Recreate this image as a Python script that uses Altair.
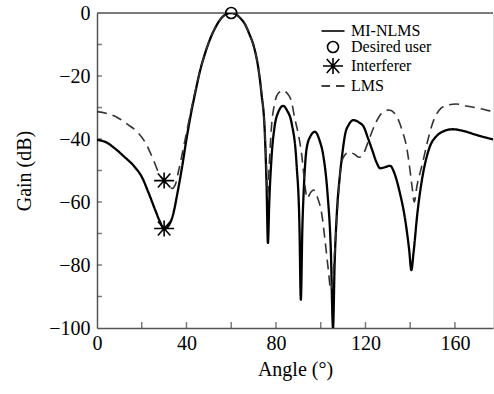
import altair as alt
import pandas as pd

# MI-NLMS beam pattern (solid)
mi_angle = [0, 4, 8, 12, 17, 20, 23, 26, 28, 30, 32, 34, 36, 38, 40, 42, 44, 46, 48, 51, 53, 55.5, 58, 60,
            62, 64, 66, 68, 70.5, 72, 73.5, 75, 75.8, 76.4, 77, 78, 79.4, 81, 83.2, 85, 87, 89.2, 90.5, 91.1,
            91.8, 92.5, 93.7, 95.5, 97.4, 99.5, 101.2, 103, 104.5, 105.5, 106.2, 107.2, 108.5, 109.5, 111,
            112.5, 114.7, 117, 119.2, 121, 123, 125, 126.5, 128.5, 131, 133, 135, 138, 139.5, 140.5, 141.5,
            143.2, 145, 147, 149, 151.5, 155, 159, 164, 169.5, 174, 180]
mi_gain = [-40.3, -41, -43, -45.5, -49, -52, -57, -62.5, -66, -68.5, -67.5, -64, -57, -49, -40, -32, -25, -18.5,
           -13.5, -7.5, -4.5, -1.7, -0.3, 0, -0.4, -1.6, -3.4, -6.5, -11.7, -17, -25.5, -38, -55, -73, -60, -46,
           -36, -31.5, -29.5, -31, -35, -48, -68, -91, -68, -55, -43, -39, -37.7, -40.5, -45.5, -57, -75, -100,
           -80, -63.6, -52, -45.6, -38.2, -35.5, -34, -34.7, -36.1, -39.5, -43.5, -47.5, -49.3, -49, -48.5, -51,
           -56, -66.8, -75, -81.6, -76, -63.6, -54, -46.7, -42, -39.3, -37.5, -36.9, -37.5, -38.7, -39.6, -40.5]

# LMS beam pattern (dashed)
lms_angle = [0, 4, 9.6, 14, 18.6, 21.5, 23.9, 26, 27.6, 30, 32, 33.6, 35, 36.5, 38, 40, 42, 44, 46, 48, 51, 53,
             55.5, 58, 60, 62, 64, 66, 68, 70.5, 72, 73.5, 74.8, 75.8, 76.3, 77, 78, 79.4, 81, 83.2, 85, 86.9,
             88.4, 90, 91.4, 93, 93.9, 95.5, 96.8, 98.5, 100.5, 101.9, 103.4, 104.5, 105.3, 106.4, 107.5, 108.5,
             110, 112.5, 115, 117.2, 119.2, 121.5, 124.5, 127, 130.5, 133, 136.5, 138.5, 139.5, 140.8, 141.8,
             143, 145.5, 148, 150, 153.7, 157, 160.5, 165, 171, 175, 180]
lms_gain = [-31.3, -31.8, -33.4, -35.5, -38.2, -41, -44.5, -48, -50.9, -53.2, -55, -55.7, -54.5, -50, -45, -38, -31,
            -24.5, -18.5, -13.5, -7.5, -4.5, -1.7, -0.3, 0, -0.4, -1.6, -3.4, -6.5, -11.7, -17, -25, -35, -50, -58,
            -48, -36, -28.7, -25.5, -24.6, -25.5, -28, -33.5, -38.5, -44.5, -55, -58.8, -57, -56.2, -58.5, -64,
            -72, -81.6, -88, -85, -74, -62, -52, -46, -44.2, -44.8, -45.8, -44.5, -40.3, -35, -32, -30.8, -31.8,
            -37.5, -43, -47.7, -55, -60, -55, -47.7, -40, -35, -30.3, -29.2, -28.9, -29.5, -30.3, -31, -31.7]

# markers
mark_names = ["Desired user", "Interferer", "Interferer"]
mark_angle = [60, 30, 30]
mark_gain = [0, -53.2, -68.4]

legend_names = ["MI-NLMS", "Desired user", "Interferer", "LMS"]

x_ticks = [20, 40, 60, 80, 100, 120, 140, 160]
y_ticks = [-10, -20, -30, -40, -50, -60, -70, -80, -90]
x_labels = [0, 40, 80, 120, 160]
y_labels = [0, -20, -40, -60, -80, -100]

FONT = "Liberation Serif"
AX = "#555555"

lines = pd.DataFrame(
    {"angle": mi_angle + lms_angle,
     "gain": mi_gain + lms_gain,
     "series": ["MI-NLMS"] * len(mi_angle) + ["LMS"] * len(lms_angle)}
)
marks = pd.DataFrame({"angle": mark_angle, "gain": mark_gain, "name": mark_names})

xscale = alt.Scale(domain=[0, 177], nice=False, zero=False)
yscale = alt.Scale(domain=[-100, 0], nice=False, zero=False)

xaxis = alt.Axis(values=x_labels, title="Angle (°)", grid=False, ticks=False, domainColor=AX,
                 domainWidth=1.5, labelFont=FONT, labelFontSize=20, labelColor="black", labelPadding=5,
                 titleFont=FONT, titleFontSize=20, titleFontWeight="normal", titleColor="black", titlePadding=6,
                 labelFlush=False)
yaxis = alt.Axis(values=y_labels, title="Gain (dB)", grid=False, ticks=False, domainColor=AX,
                 domainWidth=1.5, labelFont=FONT, labelFontSize=20, labelColor="black", labelPadding=7,
                 labelExpr="datum.value < 0 ? '\u2212' + abs(datum.value) : datum.value",
                 titleFont=FONT, titleFontSize=20, titleFontWeight="normal", titleColor="black", titlePadding=14,
                 labelFlush=False)

line_layer = alt.Chart(lines).mark_line(clip=True, interpolate="monotone").encode(
    x=alt.X("angle:Q", scale=xscale, axis=xaxis),
    y=alt.Y("gain:Q", scale=yscale, axis=yaxis),
    strokeDash=alt.StrokeDash("series:N", scale=alt.Scale(domain=["MI-NLMS", "LMS"], range=[[1, 0], [10, 6]]),
                              legend=None),
    color=alt.Color("series:N", scale=alt.Scale(domain=["MI-NLMS", "LMS"], range=["black", "#333333"]),
                    legend=None),
    strokeWidth=alt.StrokeWidth("series:N", scale=alt.Scale(domain=["MI-NLMS", "LMS"], range=[2.3, 1.6]),
                                legend=None),
    order=alt.Order("angle:Q"),
)

solid_path = "M-2.3,0L2.3,0"
circle_path = "M1.1,0A1.1,1.1,0,1,1,-1.1,0A1.1,1.1,0,1,1,1.1,0Z"
star_path = "M-2,0L2,0M0,-1.6L0,1.6M-1.25,-1.4L1.25,1.4M-1.25,1.4L1.25,-1.4"
dash_path = "M-2.3,0L-0.6,0M0.6,0L2.3,0"

point_layer = alt.Chart(marks).mark_point(filled=False, size=100, strokeWidth=1.6, color="black", opacity=1).encode(
    x=alt.X("angle:Q", scale=xscale),
    y=alt.Y("gain:Q", scale=yscale),
    shape=alt.Shape("name:N",
                    scale=alt.Scale(domain=legend_names,
                                    range=[solid_path, circle_path, star_path, dash_path]),
                    legend=alt.Legend(title=None, orient="none", legendX=228, legendY=10, padding=0,
                                      labelFont=FONT, labelFontSize=16, labelColor="black", labelOffset=10,
                                      symbolSize=100, symbolStrokeWidth=1.6, symbolStrokeColor="black",
                                      symbolFillColor="transparent", rowPadding=-2, labelLimit=300)),
)

xt = pd.DataFrame({"t": x_ticks})
yt = pd.DataFrame({"t": y_ticks})
xtick_layer = alt.Chart(xt).mark_tick(color="#444444", thickness=1.5, size=12, orient="vertical", clip=True).encode(
    x=alt.X("t:Q", scale=xscale), y=alt.datum(-100))
ytick_layer = alt.Chart(yt).mark_tick(color="#444444", thickness=1.5, size=10, orient="horizontal", clip=True).encode(
    y=alt.Y("t:Q", scale=yscale), x=alt.datum(0))
top_layer = alt.Chart(pd.DataFrame({"a": [0]})).mark_rule(color=AX, strokeWidth=1.5).encode(
    y=alt.datum(0), x=alt.datum(0), x2=alt.datum(177))

chart = alt.layer(xtick_layer, ytick_layer, top_layer, line_layer, point_layer).properties(
    width=396, height=315,
    autosize=alt.AutoSizeParams(type="none"),
    padding={"left": 97, "top": 13, "right": 1, "bottom": 66},
).configure_view(stroke=None).configure(background="white")

chart.save("out.html", embed_options={"renderer": "svg", "actions": False})
